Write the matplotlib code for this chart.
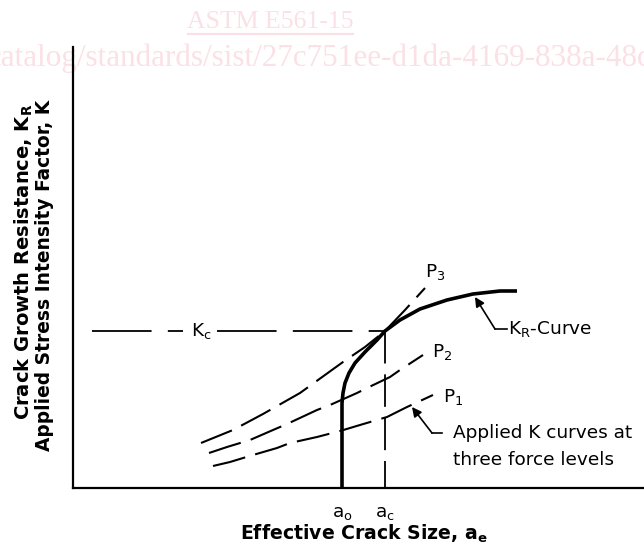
import matplotlib
matplotlib.use("Agg")
import matplotlib.pyplot as plt

plt.rcParams['font.family'] = ['DejaVu Sans']
plt.rcParams['mathtext.default'] = 'regular'

# K_R resistance curve (x: effective crack size, y: K), schematic units
kr_x = [269, 269, 270, 272, 276, 282, 292, 304, 312, 327, 347, 374, 400, 427, 444]
kr_y = [0, 85, 95, 105, 115, 125, 136, 148, 157, 168, 179, 188, 194, 197, 197]

# Applied K curves at three force levels
p3_x = [128, 160, 190, 227, 270, 292, 312, 332, 352]
p3_y = [45, 58, 74, 95, 126, 141, 157, 178, 200]
p2_x = [136, 154, 177, 200, 214, 244, 257, 284, 294, 317, 327, 350]
p2_y = [35, 41, 48, 58, 64, 78, 83, 95, 100, 111, 118, 133]
p1_x = [140, 157, 180, 204, 217, 244, 267, 287, 314, 334, 360]
p1_y = [22, 26, 33, 40, 45, 51, 57, 63, 71, 81, 93]

kc_value = 157
a0_value = 269
ac_value = 312

fig = plt.figure(figsize=(6.44, 5.5), dpi=100)
W, H = 644, 550
ax_l, ax_r, ax_t, ax_b = 73, 644, 47, 488
ax = fig.add_axes([ax_l / W, (H - ax_b) / H, (ax_r - ax_l) / W, (ax_b - ax_t) / H])
ax.set_xlim(0, ax_r - ax_l)
ax.set_ylim(0, ax_b - ax_t)
ax.patch.set_alpha(0)
for s in ['top', 'right']:
    ax.spines[s].set_visible(False)
for s in ['left', 'bottom']:
    ax.spines[s].set_linewidth(1.6)
ax.set_xticks([])
ax.set_yticks([])

dash = (16, 5)
for xs, ys in [(p3_x, p3_y), (p2_x, p2_y), (p1_x, p1_y)]:
    ax.plot(xs, ys, color='black', lw=1.5, dashes=dash, solid_capstyle='butt', dash_capstyle='butt')

ax.plot(kr_x, kr_y, color='black', lw=2.6, solid_joinstyle='round', solid_capstyle='butt')

# Kc dashed line
ax.plot([19, 110], [kc_value, kc_value], color='black', lw=1.3, dashes=(33, 9))
ax.plot([144, ac_value], [kc_value, kc_value], color='black', lw=1.3, dashes=(33, 9))
ax.plot([ac_value, ac_value], [kc_value, 0], color='black', lw=1.3, dashes=(18, 6))

fs = 13.3
ax.text(128, kc_value, r'K$_c$', fontsize=fs, ha='center', va='center')
ax.text(352, 216, r'P$_3$', fontsize=fs, ha='left', va='center')
ax.text(359, 136, r'P$_2$', fontsize=fs, ha='left', va='center')
ax.text(370, 91, r'P$_1$', fontsize=fs, ha='left', va='center')
ax.text(435, 159, r'K$_R$-Curve', fontsize=fs, ha='left', va='center')
ax.text(380, 55, 'Applied K curves at', fontsize=fs, ha='left', va='center')
ax.text(380, 28, 'three force levels', fontsize=fs, ha='left', va='center')

# leaders with arrowheads
ax.plot([434, 422], [159, 159], color='black', lw=1.2)
ax.annotate('', xy=(402, 191), xytext=(422, 159),
            arrowprops=dict(arrowstyle='-|>', color='black', lw=1.2, mutation_scale=14, shrinkA=0, shrinkB=0))
ax.plot([369, 359], [55, 55], color='black', lw=1.2)
ax.annotate('', xy=(339, 81), xytext=(359, 55),
            arrowprops=dict(arrowstyle='-|>', color='black', lw=1.2, mutation_scale=14, shrinkA=0, shrinkB=0))

ax.text(a0_value, -25, r'a$_o$', fontsize=fs, ha='center', va='center', clip_on=False)
ax.text(ac_value, -25, r'a$_c$', fontsize=fs, ha='center', va='center', clip_on=False)
ax.text(291, -46, r'Effective Crack Size, a$_e$', fontsize=13.6, fontweight='bold',
        ha='center', va='center', clip_on=False)
ax.text(-49, 226, r'Crack Growth Resistance, K$_R$', fontsize=14, fontweight='bold',
        rotation=90, ha='center', va='center', clip_on=False)
ax.text(-28, 213, r'Applied Stress Intensity Factor, K', fontsize=13.4, fontweight='bold',
        rotation=90, ha='center', va='center', clip_on=False)

# watermark
pink = '#fbe0e6'
fig.text(270 / W, 1 - 22 / H, 'ASTM E561-15', fontsize=18.5, color=pink,
         family='Liberation Serif', ha='center', va='center')
fig.add_artist(plt.Line2D([188 / W, 353 / W], [1 - 34 / H, 1 - 34 / H], color=pink, lw=1.6))
fig.text(-12 / W, 1 - 58 / H, 'catalog/standards/sist/27c751ee-d1da-4169-838a-48cd',
         fontsize=22.4, color=pink, family='Liberation Serif', ha='left', va='center', zorder=-1)

fig.savefig('out.png', dpi=100)
